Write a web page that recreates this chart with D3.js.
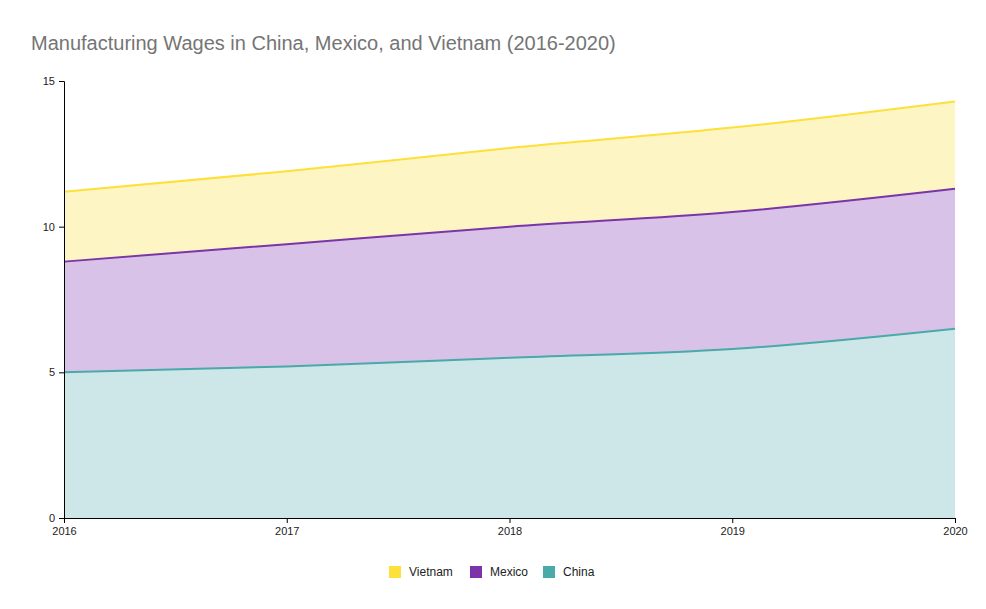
<!DOCTYPE html>
<html><head><meta charset="utf-8">
<script src="https://cdn.jsdelivr.net/npm/d3@7"></script>
<style>body{margin:0;background:#fff;font-family:Arial,"Liberation Sans",sans-serif}</style>
</head><body><svg id="c" width="986" height="609"></svg>
<script>
const years = [2016, 2017, 2018, 2019, 2020];
const china = [5.0, 5.2, 5.5, 5.8, 6.5];
const mexico = [3.8, 4.2, 4.5, 4.7, 4.8];
const vietnam = [2.4, 2.5, 2.7, 2.9, 3.0];
const yTicks = [0, 5, 10, 15];
const seriesNames = ["China", "Mexico", "Vietnam"];
const strokes = {China:"#4aa9a9", Mexico:"#7b35a8", Vietnam:"#fde03a"};
const fills = {China:"#cde6e7", Mexico:"#d9c2e8", Vietnam:"#fef5c5"};

const svg = d3.select("#c");
const x = d3.scaleLinear().domain([2016, 2020]).range([64, 955]);
const y = d3.scaleLinear().domain([0, 15]).range([518, 81]);
const rows = years.map((yr,i)=>({year:yr, China:china[i], Mexico:mexico[i], Vietnam:vietnam[i]}));
const stack = d3.stack().keys(seriesNames)(rows);
const area = d3.area().curve(d3.curveMonotoneX).x(d=>x(d.data.year)).y0(d=>y(d[0])).y1(d=>y(d[1]));
const line = d3.line().curve(d3.curveMonotoneX).x(d=>x(d.data.year)).y(d=>y(d[1]));
stack.forEach(s=>{
  svg.append("path").attr("d",area(s)).attr("fill",fills[s.key]);
});
stack.forEach(s=>{
  svg.append("path").attr("d",line(s)).attr("fill","none").attr("stroke",strokes[s.key]).attr("stroke-width",2);
});
const xa = svg.append("g").attr("transform","translate(0,518)")
  .call(d3.axisBottom(x).tickValues(years).tickFormat(d3.format("d")).tickSize(5));
const ya = svg.append("g").attr("transform","translate(64,0)")
  .call(d3.axisLeft(y).tickValues(yTicks).tickSize(5));
[xa,ya].forEach(a=>{a.selectAll("text").attr("font-size",11).attr("fill","#222").attr("font-family","Arial, Liberation Sans, sans-serif");
  a.selectAll("line,path").attr("stroke","#000");});
ya.selectAll("text").attr("x",-9);
xa.selectAll("text").attr("y",9);
svg.append("text").attr("x",31).attr("y",50).attr("font-size",20).attr("fill","#757575")
  .text("Manufacturing Wages in China, Mexico, and Vietnam (2016-2020)");
const leg = [["Vietnam",389],["Mexico",470],["China",543]];
leg.forEach(([k,lx])=>{
  svg.append("rect").attr("x",lx).attr("y",566).attr("width",12).attr("height",12).attr("fill",strokes[k]);
  svg.append("text").attr("x",lx+20).attr("y",576).attr("font-size",12).attr("fill","#222").text(k);
});
</script></body></html>
